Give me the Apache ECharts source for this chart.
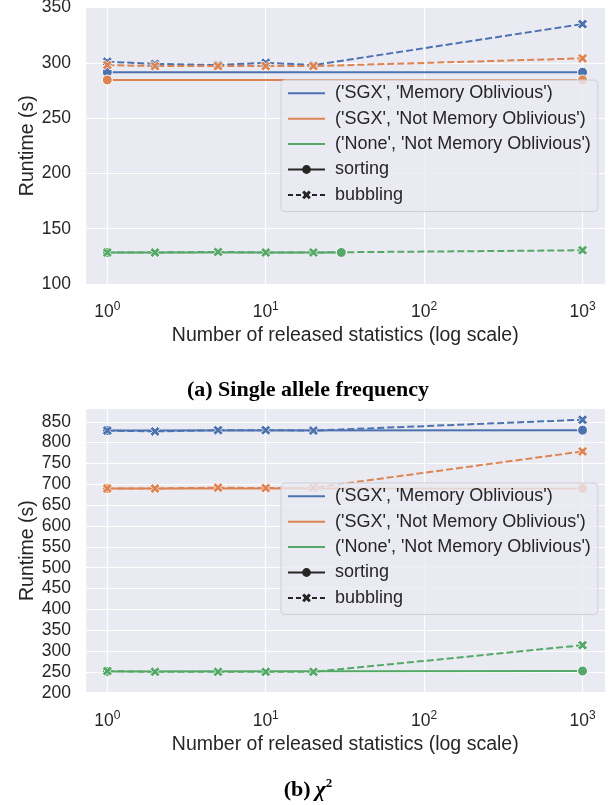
<!DOCTYPE html>
<html>
<head>
<meta charset="utf-8">
<script src="https://cdn.jsdelivr.net/npm/echarts@6/dist/echarts.min.js"></script>
<style>
html,body{margin:0;padding:0;background:#fff;}
#main{width:616px;height:805px;}
</style>
</head>
<body>
<div id="main"></div>
<script>
// ---------- data ----------
const statCounts = [1, 2, 5, 10, 20, 1000];
const sortCountsSGX = [1, 1000];
const sortCountsNoneA = [1, 30];
const sortCountsNoneB = [1, 1000];

// (a) Single allele frequency
const aSortSgxMo = [291.5, 291.5];
const aSortSgxNmo = [284.5, 284.5];
const aSortNone = [128.5, 128.5];
const aBubSgxMo = [301, 299, 298, 300, 298, 335];
const aBubSgxNmo = [298, 297, 297, 297, 297, 304];
const aBubNone = [128.5, 128.5, 129, 128.5, 128.5, 130.5];

// (b) chi^2
const bSortSgxMo = [829, 830];
const bSortSgxNmo = [690, 690];
const bSortNone = [251, 252];
const bBubSgxMo = [829, 827, 830, 830, 829, 855];
const bBubSgxNmo = [690, 690, 692, 691, 692, 779];
const bBubNone = [252, 250, 250, 250, 250, 314];

const groupNames = ["('SGX', 'Memory Oblivious')", "('SGX', 'Not Memory Oblivious')", "('None', 'Not Memory Oblivious')"];
const styleNames = ['sorting', 'bubbling'];

// ---------- styling ----------
const colors = ['#4C72B0', '#DD8452', '#55A868'];
const TXT = '#262626';
const FONT = 'Liberation Sans, Arial, sans-serif';
const SERIF = 'Liberation Serif, serif';
const XPATH = 'path://M-1,-0.52 L-0.52,-1 L0,-0.48 L0.52,-1 L1,-0.52 L0.48,0 L1,0.52 L0.52,1 L0,0.48 L-0.52,1 L-1,0.52 L-0.48,0 Z';

function pairs(xs, ys) { return xs.map((x, i) => [x, ys[i]]); }

function lineSeries(idx, name, xs, ys, colorIdx, dashed) {
  return {
    type: 'line', name: name, xAxisIndex: idx, yAxisIndex: idx,
    data: pairs(xs, ys),
    showAllSymbol: true,
    symbol: dashed ? XPATH : 'circle',
    symbolSize: 10,
    itemStyle: { color: colors[colorIdx], borderColor: '#fff', borderWidth: dashed ? 0.8 : 1 },
    lineStyle: { color: colors[colorIdx], width: 2, type: dashed ? [7, 3] : 'solid' },
    z: dashed ? 3 : 2,
    silent: true, animation: false
  };
}

function xAxis(idx) {
  return {
    type: 'log', gridIndex: idx, logBase: 10, min: 0.723, max: 1396,
    name: 'Number of released statistics (log scale)',
    nameLocation: 'middle', nameGap: 42, nameMoveOverlap: false,
    nameTextStyle: { fontSize: 19.5, color: TXT, fontFamily: FONT },
    axisLine: { show: false }, axisTick: { show: false },
    minorTick: { show: false }, minorSplitLine: { show: false },
    splitLine: { show: true, lineStyle: { color: '#ffffff', width: 1.2 } },
    axisLabel: {
      margin: 17, color: TXT, fontFamily: FONT,
      showMinLabel: false, showMaxLabel: false,
      formatter: function (v) {
        const e = Math.log10(v); const r = Math.round(e);
        if (Math.abs(e - r) > 1e-6) return '';
        return '{b|10}{s|' + r + '}';
      },
      rich: {
        b: { fontSize: 17.5, color: TXT, fontFamily: FONT, lineHeight: 20, verticalAlign: 'bottom' },
        s: { fontSize: 12, color: TXT, fontFamily: FONT, lineHeight: 12, verticalAlign: 'top' }
      }
    }
  };
}

function yAxis(idx, min, max) {
  return {
    type: 'value', gridIndex: idx, min: min, max: max, interval: 50,
    name: 'Runtime (s)', nameLocation: 'middle', nameGap: 47, nameMoveOverlap: false,
    nameTextStyle: { fontSize: 19.5, color: TXT, fontFamily: FONT },
    axisLine: { show: false }, axisTick: { show: false },
    splitLine: { show: true, lineStyle: { color: '#ffffff', width: 1.2 } },
    axisLabel: { margin: 14, fontSize: 17.5, color: TXT, fontFamily: FONT, showMaxLabel: idx === 0 }
  };
}

function legend(top) {
  const data = groupNames.map(n => ({ name: n, itemStyle: { opacity: 0, borderWidth: 0 } }))
    .concat(styleNames.map(n => ({ name: n })));
  return {
    show: true, orient: 'vertical', left: 281, top: top,
    data: data,
    itemWidth: 37, itemHeight: 11, itemGap: 5.4,
    padding: [3.3, 7, 6.7, 6],
    backgroundColor: 'rgba(234,234,242,0.8)',
    borderColor: '#cfcfd6', borderWidth: 1, borderRadius: 4,
    textStyle: { fontSize: 18, color: TXT, fontFamily: FONT, lineHeight: 20, padding: [0, 0, 0, 5] },
    selectedMode: false
  };
}

const series = [];
const dataSets = [
  { sort: [aSortSgxMo, aSortSgxNmo, aSortNone], sortX: [sortCountsSGX, sortCountsSGX, sortCountsNoneA], bub: [aBubSgxMo, aBubSgxNmo, aBubNone] },
  { sort: [bSortSgxMo, bSortSgxNmo, bSortNone], sortX: [sortCountsSGX, sortCountsSGX, sortCountsNoneB], bub: [bBubSgxMo, bBubSgxNmo, bBubNone] }
];
dataSets.forEach((d, idx) => {
  for (let g = 0; g < 3; g++) {
    series.push(lineSeries(idx, 'p' + idx + '-sort-' + g, d.sortX[g], d.sort[g], g, false));
    series.push(lineSeries(idx, 'p' + idx + '-bub-' + g, statCounts, d.bub[g], g, true));
  }
});
// legend-only series
groupNames.forEach((n, g) => {
  series.push({ type: 'line', name: n, xAxisIndex: 0, yAxisIndex: 0, data: [], symbol: 'none', symbolSize: 0,
    itemStyle: { color: colors[g] }, lineStyle: { color: colors[g], width: 2 } });
});
series.push({ type: 'line', name: 'sorting', xAxisIndex: 0, yAxisIndex: 0, data: [], symbol: 'circle', symbolSize: 9,
  itemStyle: { color: '#262626' }, lineStyle: { color: '#262626', width: 2 } });
series.push({ type: 'line', name: 'bubbling', xAxisIndex: 0, yAxisIndex: 0, data: [], symbol: XPATH, symbolSize: 9,
  itemStyle: { color: '#262626' }, lineStyle: { color: '#262626', width: 2, type: [5, 3] } });

const chart = echarts.init(document.getElementById('main'), null, { renderer: 'canvas' });
chart.setOption({
  backgroundColor: '#ffffff',
  animation: false,
  textStyle: { fontFamily: FONT },
  title: [
    { text: '(a) Single allele frequency', left: 'center', top: 374,
      textStyle: { fontFamily: SERIF, fontWeight: 'bold', fontSize: 22, color: '#000' } },
    { text: '{b|(b)} {i|χ}{s|2}', left: 'center', top: 772,
      textStyle: { rich: {
        b: { fontFamily: SERIF, fontWeight: 'bold', fontSize: 22, color: '#000', lineHeight: 24, verticalAlign: 'bottom' },
        i: { fontFamily: SERIF, fontStyle: 'italic', fontSize: 22, color: '#000', lineHeight: 24, verticalAlign: 'bottom' },
        s: { fontFamily: SERIF, fontSize: 13, color: '#000', lineHeight: 13, verticalAlign: 'top' }
      } } }
  ],
  grid: [
    { left: 85, top: 7.5, width: 520.5, height: 276.5, show: true, backgroundColor: '#EAEAF2', borderWidth: 0, outerBoundsMode: 'none', containLabel: false },
    { left: 85, top: 408.5, width: 520.5, height: 284.2, show: true, backgroundColor: '#EAEAF2', borderWidth: 0, outerBoundsMode: 'none', containLabel: false }
  ],
  xAxis: [xAxis(0), xAxis(1)],
  yAxis: [yAxis(0, 100, 350), yAxis(1, 200, 882)],
  legend: [legend(80), legend(483)],
  series: series
});
</script>
</body>
</html>
